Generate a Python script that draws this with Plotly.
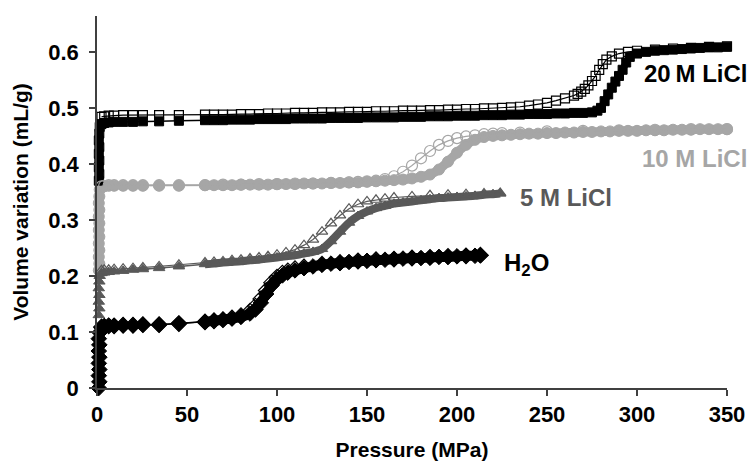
import plotly.graph_objects as go

# ---------------- data ----------------
# Water: compression (filled diamonds)
h2o_p_comp = [1.0, 1.3, 1.0, 1.3, 1.0, 1.3, 1.0, 1.3, 1.0, 1.5, 2.5, 4, 6.5, 9.5, 14.5, 20, 25.5, 34.5, 45.5,
              60, 65, 70, 75, 80, 85, 88, 91, 94, 97, 100, 103, 106, 110, 115, 120, 125, 130, 135, 140,
              145, 150, 155, 160, 165, 170, 175, 180, 185, 190, 195, 200, 205, 210, 213]
h2o_v_comp = [0.000, 0.011, 0.022, 0.033, 0.044, 0.055, 0.066, 0.077, 0.088, 0.099, 0.108, 0.110, 0.111, 0.111,
              0.112, 0.112, 0.113, 0.113, 0.115,
              0.118, 0.120, 0.122, 0.124, 0.127, 0.133, 0.140, 0.152, 0.168, 0.183, 0.194, 0.201, 0.206, 0.210,
              0.214, 0.217, 0.220, 0.222, 0.223, 0.225, 0.226, 0.227, 0.228, 0.229, 0.230, 0.231, 0.232, 0.232,
              0.233, 0.234, 0.234, 0.235, 0.236, 0.236, 0.237]
# Water: decompression (open diamonds)
h2o_p_dec = [213, 205, 195, 185, 175, 165, 155, 145, 135, 125, 115, 110, 106, 103, 100, 97, 94, 91, 88, 85,
             80, 75, 70, 65, 60, 45.5, 34.5, 25.5, 20, 14.5, 9.5, 6.5, 4, 2.5]
h2o_v_dec = [0.237, 0.236, 0.235, 0.233, 0.232, 0.230, 0.229, 0.227, 0.224, 0.221, 0.216, 0.213, 0.209, 0.205,
             0.198, 0.188, 0.174, 0.159, 0.146, 0.137, 0.129, 0.125, 0.122, 0.120, 0.118, 0.115, 0.113, 0.113,
             0.112, 0.112, 0.111, 0.111, 0.110, 0.109]

# 5 M LiCl: compression (filled triangles)
m5_p_comp = [1.0, 1.3, 1.0, 1.3, 1.0, 1.3, 1.5, 2.5, 4, 6.5, 9.5, 14.5, 20, 25.5, 34.5, 45.5,
             60, 65, 70, 75, 80, 85, 90, 95, 100, 105, 110, 115, 120, 125, 130, 135, 140, 145, 150, 155,
             160, 165, 170, 175, 180, 185, 190, 195, 200, 205, 210, 215, 220, 224]
m5_v_comp = [0.130, 0.142, 0.154, 0.166, 0.178, 0.190, 0.200, 0.205, 0.206, 0.207, 0.208, 0.209, 0.211, 0.212,
             0.214, 0.217,
             0.221, 0.222, 0.224, 0.225, 0.226, 0.228, 0.229, 0.231, 0.233, 0.235, 0.237, 0.240, 0.243, 0.248,
             0.262, 0.279, 0.295, 0.307, 0.315, 0.321, 0.325, 0.329, 0.331, 0.333, 0.335, 0.337, 0.339, 0.340,
             0.341, 0.342, 0.343, 0.345, 0.346, 0.347]
# 5 M LiCl: decompression (open triangles)
m5_p_dec = [224, 215, 205, 195, 185, 175, 165, 160, 155, 150, 145, 140, 135, 130, 125, 120, 115, 110, 105, 100,
            95, 90, 85, 80, 75, 70, 65, 60, 45.5, 34.5, 25.5, 20, 14.5, 9.5, 6.5, 4, 2.5]
m5_v_dec = [0.348, 0.347, 0.346, 0.345, 0.344, 0.342, 0.340, 0.338, 0.336, 0.333, 0.328, 0.320, 0.308, 0.294,
            0.279, 0.265, 0.255, 0.247, 0.242, 0.238, 0.235, 0.233, 0.231, 0.229, 0.228, 0.226, 0.225, 0.224,
            0.220, 0.217, 0.215, 0.214, 0.213, 0.212, 0.211, 0.211, 0.210]

# 10 M LiCl: compression (filled circles)
m10_p_comp = [1.0, 1.3, 1.0, 1.3, 1.0, 1.3, 1.0, 1.3, 1.0, 1.3, 1.0, 1.3, 1.5, 2.5, 4, 6.5, 9.5, 14.5, 20, 25.5,
              34.5, 45.5,
              60, 65, 70, 75, 80, 85, 90, 95, 100, 105, 110, 115, 120, 125, 130, 135, 140, 145, 150, 155, 160,
              165, 170, 175, 180, 185, 190, 195, 200, 205, 210, 215, 220, 225, 230, 235, 240, 245, 250, 255,
              260, 265, 270, 275, 280, 285, 290, 295, 300, 305, 310, 315, 320, 325, 330, 335, 340, 345, 350]
m10_v_comp = [0.210, 0.222, 0.234, 0.246, 0.258, 0.270, 0.282, 0.294, 0.306, 0.318, 0.330, 0.342, 0.354, 0.359,
              0.360, 0.361, 0.361, 0.361, 0.361, 0.361, 0.361, 0.361,
              0.362, 0.362, 0.362, 0.362, 0.363, 0.363, 0.363, 0.363, 0.364, 0.364, 0.364, 0.365, 0.365, 0.365,
              0.366, 0.366, 0.367, 0.367, 0.368, 0.369, 0.370, 0.371, 0.372, 0.374, 0.377, 0.381, 0.390, 0.404,
              0.420, 0.434, 0.443, 0.448, 0.450, 0.451, 0.452, 0.453, 0.454, 0.454, 0.455, 0.455, 0.456, 0.456,
              0.457, 0.457, 0.458, 0.458, 0.459, 0.459, 0.459, 0.460, 0.460, 0.460, 0.461, 0.461, 0.461, 0.462,
              0.462, 0.462, 0.462]
# 10 M LiCl: decompression (open circles)
m10_p_dec = [350, 330, 310, 290, 270, 250, 235, 225, 220, 215, 210, 205, 200, 195, 190, 185, 180, 175, 170, 165,
             160, 155, 150, 145, 140, 130, 120, 110, 100, 90, 80, 70, 60, 45.5, 34.5, 25.5, 20, 14.5, 9.5, 6.5,
             4, 2.5]
m10_v_dec = [0.462, 0.462, 0.461, 0.460, 0.459, 0.458, 0.456, 0.455, 0.454, 0.453, 0.451, 0.449, 0.446, 0.441,
             0.434, 0.423, 0.410, 0.397, 0.386, 0.378, 0.373, 0.370, 0.369, 0.368, 0.367, 0.366, 0.365, 0.365,
             0.364, 0.364, 0.363, 0.363, 0.362, 0.362, 0.362, 0.362, 0.362, 0.362, 0.362, 0.362, 0.361, 0.360]

# 20 M LiCl: compression (filled squares)
m20_p_comp = [1.0, 1.3, 1.0, 1.3, 1.0, 1.3, 1.0, 1.3, 1.5, 2.5, 4, 6.5, 9.5, 14.5, 20, 25.5, 34.5, 45.5,
              60, 65, 70, 75, 80, 85, 90, 95, 100, 105, 110, 115, 120, 125, 130, 135, 140, 145, 150, 155, 160,
              165, 170, 175, 180, 185, 190, 195, 200, 205, 210, 215, 220, 225, 230, 235, 240, 245, 250, 255,
              260, 265, 270, 275, 278, 280, 282, 284, 286, 288, 290, 292, 294, 296, 300, 305, 310, 315, 320,
              325, 330, 335, 340, 345, 350]
m20_v_comp = [0.370, 0.382, 0.394, 0.406, 0.418, 0.430, 0.442, 0.454, 0.466, 0.471, 0.473, 0.474, 0.475, 0.475,
              0.475, 0.476, 0.476, 0.477,
              0.478, 0.478, 0.478, 0.479, 0.479, 0.479, 0.480, 0.480, 0.480, 0.480, 0.481, 0.481, 0.481, 0.481,
              0.482, 0.482, 0.482, 0.482, 0.483, 0.483, 0.483, 0.483, 0.484, 0.484, 0.484, 0.485, 0.485, 0.485,
              0.486, 0.486, 0.486, 0.487, 0.487, 0.487, 0.488, 0.488, 0.489, 0.489, 0.489, 0.490, 0.490, 0.491,
              0.491, 0.492, 0.495, 0.500, 0.512, 0.524, 0.536, 0.547, 0.557, 0.568, 0.581, 0.591, 0.597, 0.600,
              0.602, 0.603, 0.604, 0.605, 0.606, 0.607, 0.608, 0.608, 0.609]
# 20 M LiCl: decompression (open squares)
m20_p_dec = [350, 340, 330, 320, 310, 300, 295, 290, 286, 283, 281, 279, 277, 275, 273, 271, 269, 267, 265, 260,
             255, 250, 245, 240, 235, 230, 225, 220, 215, 210, 205, 200, 195, 190, 185, 180, 175, 170, 165, 160,
             155, 150, 145, 140, 135, 130, 125, 120, 115, 110, 105, 100, 95, 90, 85, 80, 75, 70, 65, 60, 45.5,
             34.5, 25.5, 20, 14.5, 9.5, 6.5, 4, 2.5]
m20_v_dec = [0.610, 0.609, 0.607, 0.606, 0.604, 0.602, 0.600, 0.597, 0.592, 0.586, 0.578, 0.568, 0.557, 0.548,
             0.540, 0.534, 0.529, 0.525, 0.522, 0.517, 0.513, 0.509, 0.506, 0.504, 0.502, 0.501, 0.500, 0.499,
             0.499, 0.498, 0.498, 0.497, 0.497, 0.496, 0.496, 0.495, 0.495, 0.495, 0.494, 0.494, 0.494, 0.493,
             0.493, 0.493, 0.492, 0.492, 0.492, 0.491, 0.491, 0.491, 0.490, 0.490, 0.490, 0.489, 0.489, 0.489,
             0.488, 0.488, 0.488, 0.488, 0.487, 0.487, 0.487, 0.487, 0.487, 0.486, 0.486, 0.485, 0.484]

x_ticks = [0, 50, 100, 150, 200, 250, 300, 350]
y_ticks = [0, 0.1, 0.2, 0.3, 0.4, 0.5, 0.6]
y_tick_text = ["0", "0.1", "0.2", "0.3", "0.4", "0.5", "0.6"]

labels = ["20\u2009M LiCl", "10 M LiCl", "5 M LiCl", "H<sub>2</sub>O"]
label_p = [302.5, 301.5, 234.0, 225.0]
label_v = [0.562, 0.410, 0.340, 0.220]

# ---------------- styling ----------------
FONT = "Liberation Sans, Arial, sans-serif"
BLACK = "#000000"
DARK = "#595959"
LIGHT = "#a6a6a6"

series = [
    # name, p_comp, v_comp, p_dec, v_dec, color, symbol, size
    ("10M", m10_p_comp, m10_v_comp, m10_p_dec, m10_v_dec, LIGHT, "circle", 11),
    ("5M", m5_p_comp, m5_v_comp, m5_p_dec, m5_v_dec, DARK, "triangle-up", 10),
    ("H2O", h2o_p_comp, h2o_v_comp, h2o_p_dec, h2o_v_dec, BLACK, "diamond", 12),
    ("20M", m20_p_comp, m20_v_comp, m20_p_dec, m20_v_dec, BLACK, "square", 9),
]

fig = go.Figure()
for name, pc, vc, pd, vd, col, sym, size in series:
    # dense section of the compression run forms a solid band
    dense = [i for i, p in enumerate(pc) if p >= 59]
    fig.add_trace(go.Scatter(
        x=[pc[i] for i in dense], y=[vc[i] for i in dense], mode="lines",
        line=dict(color=col, width=size - 2, shape="spline", smoothing=0.6),
        hoverinfo="skip", showlegend=False, cliponaxis=False))
    fig.add_trace(go.Scatter(
        x=pc, y=vc, mode="lines+markers", name=name + " compression",
        line=dict(color=col, width=1.5),
        marker=dict(symbol=sym, size=size, color=col, line=dict(color=col, width=1)),
        showlegend=False, cliponaxis=False))
for name, pc, vc, pd, vd, col, sym, size in series:
    fig.add_trace(go.Scatter(
        x=pd, y=vd, mode="lines+markers", name=name + " decompression",
        line=dict(color=col, width=1.2),
        marker=dict(symbol=sym + "-open", size=size, color=col, line=dict(color=col, width=1.2)),
        showlegend=False, cliponaxis=False))

label_colors = [BLACK, LIGHT, DARK, BLACK]
for t, p, v, c in zip(labels, label_p, label_v, label_colors):
    fig.add_annotation(x=p, y=v, xref="x", yref="y", text=t, showarrow=False,
                       xanchor="left", yanchor="middle",
                       font=dict(family=FONT, size=24, color=c, weight="bold"))

fig.update_layout(
    template="none",
    width=749, height=461,
    margin=dict(l=97, r=22, t=16, b=73),
    paper_bgcolor="white", plot_bgcolor="white",
    font=dict(family=FONT, size=22, color="black"),
    showlegend=False,
)
fig.update_xaxes(
    automargin=False,
    range=[0, 350], tickvals=x_ticks, ticktext=[str(v) for v in x_ticks],
    showgrid=False, zeroline=False, showline=True, linecolor="#404040", linewidth=1.5,
    ticks="outside", ticklen=6, tickwidth=1.5, tickcolor="#404040",
    tickfont=dict(family=FONT, size=22, color="black", weight="bold"),
    title=dict(text="Pressure (MPa)", standoff=24,
               font=dict(family=FONT, size=21, color="black", weight="bold")),
)
fig.update_yaxes(
    automargin=False,
    range=[0, 0.664], tickvals=y_ticks, ticktext=y_tick_text,
    showgrid=False, zeroline=False, showline=True, linecolor="#404040", linewidth=1.5,
    ticks="outside", ticklen=6, tickwidth=1.5, tickcolor="#404040", ticklabelstandoff=6,
    tickfont=dict(family=FONT, size=22, color="black", weight="bold"),
    title=dict(text="Volume variation (mL/g)", standoff=14,
               font=dict(family=FONT, size=21, color="black", weight="bold")),
)

fig.write_html("out.html")
